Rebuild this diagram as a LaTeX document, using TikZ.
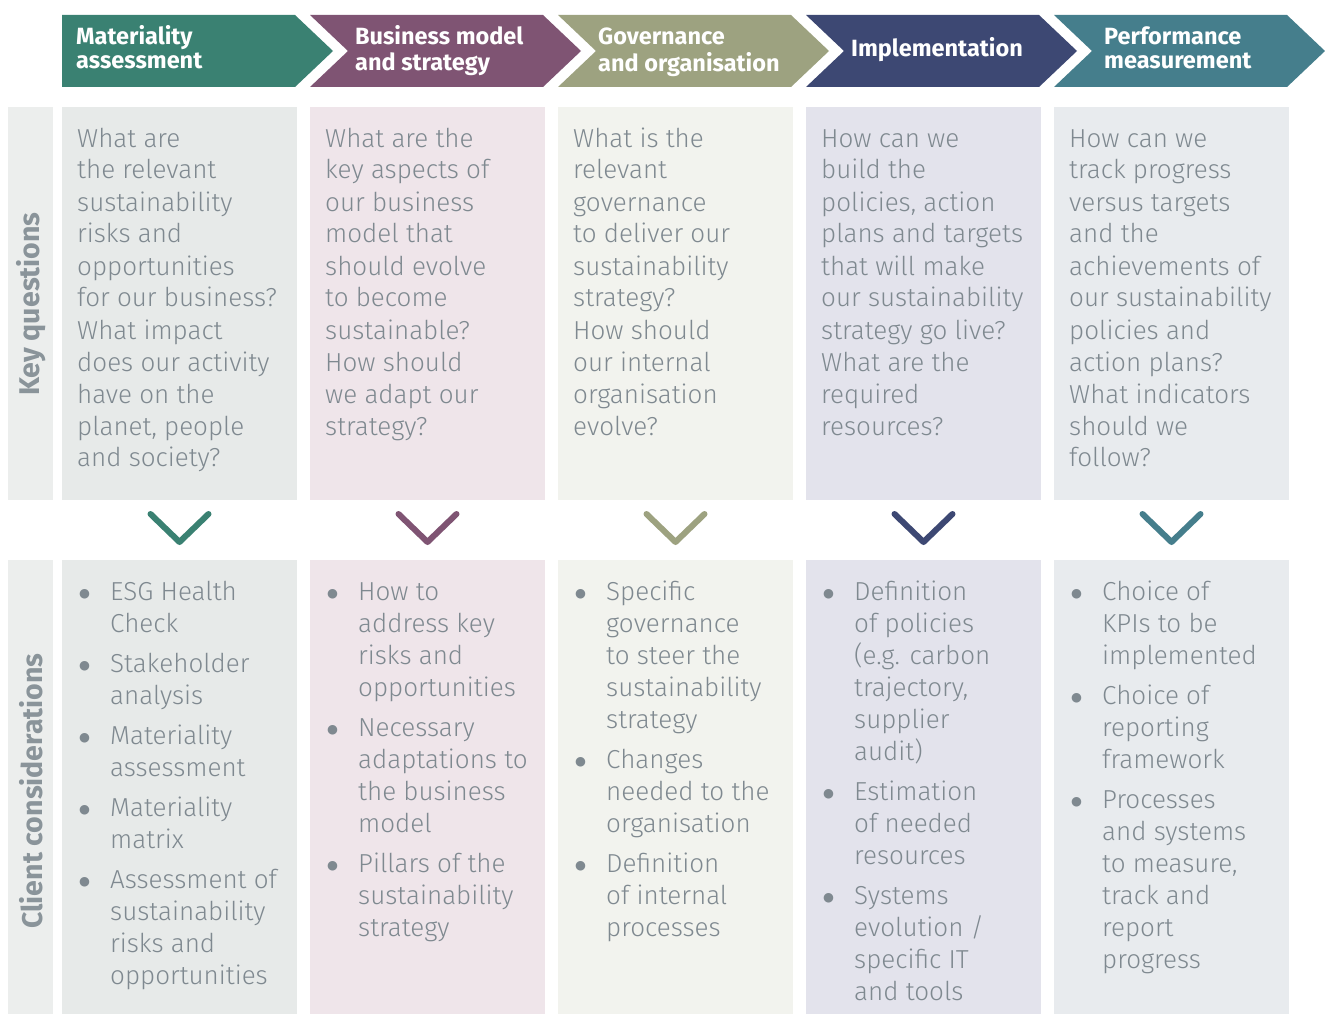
\documentclass[tikz,border=0pt]{standalone}
\usepackage{fontspec}
\setmainfont{Fira Sans}
\newfontfamily\lightfont{Fira Sans Light}
\newfontfamily\symfont{DejaVu Sans}
\definecolor{cA}{HTML}{3A8172}
\definecolor{cB}{HTML}{7F5473}
\definecolor{cC}{HTML}{9DA280}
\definecolor{cD}{HTML}{3D4873}
\definecolor{cE}{HTML}{457E8C}
\definecolor{bA}{HTML}{E7EAE9}
\definecolor{bB}{HTML}{EFE5EA}
\definecolor{bC}{HTML}{F2F3EE}
\definecolor{bD}{HTML}{E3E3EC}
\definecolor{bE}{HTML}{E8EBEE}
\definecolor{side}{HTML}{ECEEED}
\definecolor{txt}{HTML}{7F8990}
\definecolor{sidetxt}{HTML}{8A949A}
\newcommand\bul{\makebox[31pt][l]{\raisebox{2.5pt}{\symfont\fontsize{12.5}{12}\selectfont ●}}}
\newcommand\lines[1]{\begin{tabular}[t]{@{}l@{}}#1\end{tabular}}
\newcommand\items[1]{\begin{tabular}[t]{@{}l@{}l@{}}#1\end{tabular}}
\begin{document}
\begin{tikzpicture}[x=1pt,y=-1pt,
  chevron/.style={fill=#1,draw=none},
  colbox/.style={fill=#1,draw=none},
  sidebox/.style={fill=side,draw=none},
  head/.style={anchor=base west,inner sep=0pt,text=white,font=\bfseries\fontsize{23.5}{24}\selectfont},
  qtext/.style={anchor=base west,inner sep=0pt,text=txt,font=\lightfont\fontsize{26}{32}\selectfont},
  sidelabel/.style={rotate=90,inner sep=0pt,text=sidetxt,font=\bfseries\fontsize{28.5}{30}\selectfont},
  vmark/.style={draw=#1,line width=6pt,line cap=round,line join=round}]
\useasboundingbox (0,0) rectangle (1325,1014);
\fill[white] (0,0) rectangle (1325,1014);

% chevrons
\fill[chevron=cA] (62,15) -- (295,15) -- (333,51) -- (295,87) -- (62,87) -- cycle;
\foreach \x/\c in {310/cB,558/cC,806/cD,1054/cE}{
  \fill[chevron=\c] (\x,15) -- (\x+233,15) -- (\x+271,51) -- (\x+233,87) -- (\x,87) -- (\x+38,51) -- cycle;
}
\node[head] (h1) at (76,45) {\lines{Materiality\\assessment}};
\node[head] (h2) at (355,45) {\lines{Business model\\and strategy}};
\node[head] (h3) at (598,45) {\lines{Governance\\and organisation}};
\node[head] (h4) at (851,57) {Implementation};
\node[head] (h5) at (1104,45) {\lines{Performance\\measurement}};

% side boxes
\fill[sidebox] (8,107) rectangle (53,500);
\fill[sidebox] (8,560) rectangle (53,1014);
\node[sidelabel] (kq) at (31,304) {Key questions};
\node[sidelabel] (cc) at (31,791) {Client considerations};

% column boxes
\foreach \x/\c in {62/bA,310/bB,558/bC,806/bD,1054/bE}{
  \fill[colbox=\c] (\x,107) rectangle (\x+235,500);
  \fill[colbox=\c] (\x,560) rectangle (\x+235,1014);
}

% V marks
\foreach \x/\c in {62/cA,310/cB,558/cC,806/cD,1054/cE}{
  \draw[vmark=\c] (\x+88.5,514) -- (\x+117.5,542) -- (\x+146.5,514);
}

% questions
\node[qtext] (q1) at (77,147) {\lines{What are\\the relevant\\sustainability\\risks and\\opportunities\\for our business?\\What impact\\does our activity\\have on the\\planet, people\\and society?}};
\node[qtext] (q2) at (325,147) {\lines{What are the\\key aspects of\\our business\\model that\\should evolve\\to become\\sustainable?\\How should\\we adapt our\\strategy?}};
\node[qtext] (q3) at (573,147) {\lines{What is the\\relevant\\governance\\to deliver our\\sustainability\\strategy?\\How should\\our internal\\organisation\\evolve?}};
\node[qtext] (q4) at (821,147) {\lines{How can we\\build the\\policies, action\\plans and targets\\that will make\\our sustainability\\strategy go live?\\What are the\\required\\resources?}};
\node[qtext] (q5) at (1069,147) {\lines{How can we\\track progress\\versus targets\\and the\\achievements of\\our sustainability\\policies and\\action plans?\\What indicators\\should we\\follow?}};

% considerations
\node[qtext] (c1) at (79,600) {\items{\bul&ESG Health\\&Check\\[8pt]\bul&Stakeholder\\&analysis\\[8pt]\bul&Materiality\\&assessment\\[8pt]\bul&Materiality\\&matrix\\[8pt]\bul&Assessment of\\&sustainability\\&risks and\\&opportunities}};
\node[qtext] (c2) at (327,600) {\items{\bul&How to\\&address key\\&risks and\\&opportunities\\[8pt]\bul&Necessary\\&adaptations to\\&the business\\&model\\[8pt]\bul&Pillars of the\\&sustainability\\&strategy}};
\node[qtext] (c3) at (575,600) {\items{\bul&Specific\\&governance\\&to steer the\\&sustainability\\&strategy\\[8pt]\bul&Changes\\&needed to the\\&organisation\\[8pt]\bul&Definition\\&of internal\\&processes}};
\node[qtext] (c4) at (823,600) {\items{\bul&Definition\\&of policies\\&(e.g. carbon\\&trajectory,\\&supplier\\&audit)\\[8pt]\bul&Estimation\\&of needed\\&resources\\[8pt]\bul&Systems\\&evolution /\\&specific IT\\&and tools}};
\node[qtext] (c5) at (1071,600) {\items{\bul&Choice of\\&KPIs to be\\&implemented\\[8pt]\bul&Choice of\\&reporting\\&framework\\[8pt]\bul&Processes\\&and systems\\&to measure,\\&track and\\&report\\&progress}};
\end{tikzpicture}
\end{document}
